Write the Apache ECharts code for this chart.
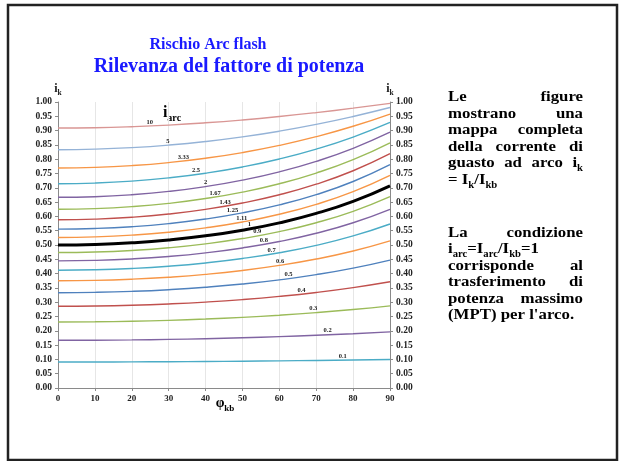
<!DOCTYPE html>
<html><head><meta charset="utf-8">
<script src="https://cdn.jsdelivr.net/npm/echarts@6/dist/echarts.min.js"></script>
<style>html,body{margin:0;padding:0;background:#fff}#c{width:620px;height:461px}</style>
</head><body><div id="c"></div>
<script>
// ---- data ----
const phi = [0, 10, 20, 30, 40, 50, 60, 70, 80, 90];
const yTicks = [0, 1, 0.05];
const iarcLabels = ['10','5','3.33','2.5','2','1.67','1.43','1.25','1.11','1','0.9','0.8','0.7','0.6','0.5','0.4','0.3','0.2','0.1'];
const ik_10   = [0.9091,0.9102,0.9137,0.9193,0.9272,0.9372,0.9492,0.9630,0.9784,0.9950];
const ik_5    = [0.8333,0.8351,0.8404,0.8493,0.8618,0.8780,0.8980,0.9218,0.9494,0.9806];
const ik_3_33 = [0.7692,0.7713,0.7776,0.7882,0.8033,0.8232,0.8482,0.8787,0.9151,0.9578];
const ik_2_5  = [0.7143,0.7165,0.7232,0.7347,0.7510,0.7728,0.8006,0.8352,0.8774,0.9285];
const ik_2    = [0.6667,0.6689,0.6758,0.6874,0.7043,0.7269,0.7559,0.7925,0.8381,0.8944];
const ik_1_67 = [0.6250,0.6272,0.6340,0.6456,0.6624,0.6850,0.7143,0.7516,0.7985,0.8575];
const ik_1_43 = [0.5882,0.5904,0.5970,0.6083,0.6247,0.6469,0.6757,0.7127,0.7596,0.8192];
const ik_1_25 = [0.5556,0.5577,0.5640,0.5749,0.5907,0.6122,0.6402,0.6762,0.7221,0.7809];
const ik_1_11 = [0.5263,0.5283,0.5344,0.5448,0.5600,0.5805,0.6075,0.6421,0.6864,0.7433];
const ik_1    = [0.5000,0.5019,0.5077,0.5176,0.5321,0.5517,0.5774,0.6104,0.6527,0.7071];
const ik_0_9  = [0.4737,0.4755,0.4810,0.4903,0.5040,0.5225,0.5467,0.5779,0.6178,0.6690];
const ik_0_8  = [0.4444,0.4461,0.4512,0.4599,0.4726,0.4897,0.5121,0.5409,0.5777,0.6247];
const ik_0_7  = [0.4118,0.4133,0.4179,0.4258,0.4373,0.4528,0.4730,0.4989,0.5317,0.5735];
const ik_0_6  = [0.3750,0.3763,0.3804,0.3874,0.3974,0.4110,0.4286,0.4509,0.4791,0.5145];
const ik_0_5  = [0.3333,0.3345,0.3379,0.3437,0.3521,0.3634,0.3780,0.3963,0.4191,0.4472];
const ik_0_4  = [0.2857,0.2866,0.2893,0.2939,0.3004,0.3091,0.3203,0.3341,0.3510,0.3714];
const ik_0_3  = [0.2308,0.2314,0.2333,0.2365,0.2410,0.2470,0.2545,0.2636,0.2745,0.2873];
const ik_0_2  = [0.1667,0.1670,0.1681,0.1699,0.1724,0.1756,0.1796,0.1844,0.1899,0.1961];
const ik_0_1  = [0.0909,0.0910,0.0914,0.0919,0.0927,0.0937,0.0949,0.0963,0.0978,0.0995];
const allSeries = [ik_10,ik_5,ik_3_33,ik_2_5,ik_2,ik_1_67,ik_1_43,ik_1_25,ik_1_11,ik_1,ik_0_9,ik_0_8,ik_0_7,ik_0_6,ik_0_5,ik_0_4,ik_0_3,ik_0_2,ik_0_1];

// ---- styles / layout ----
const FF = '"Liberation Serif","Times New Roman",serif';
const colors = ['#d99694','#95b3d7','#f79646','#4bacc6','#8064a2','#9bbb59','#c0504d','#4f81bd','#f79646','#000000',
                '#9bbb59','#8064a2','#4bacc6','#f79646','#4f81bd','#c0504d','#9bbb59','#8064a2','#4bacc6'];
const labelPhi = [24.9,29.8,34,37.4,40,42.6,45.3,47.3,49.8,51.9,54,55.8,57.9,60.2,62.5,66,69.2,73.1,77.2];

function interp(arr, x) {
  for (let i = 0; i < phi.length - 1; i++) {
    if (x >= phi[i] && x <= phi[i+1]) {
      const t = (x - phi[i]) / (phi[i+1] - phi[i]);
      return arr[i] + t * (arr[i+1] - arr[i]);
    }
  }
  return arr[arr.length-1];
}

const series = allSeries.map((arr, k) => ({
  type: 'line',
  name: iarcLabels[k],
  data: phi.map((p, i) => [p, arr[i]]),
  smooth: true,
  showSymbol: false,
  silent: true,
  z: iarcLabels[k] === '1' ? 5 : 3,
  lineStyle: { color: colors[k], width: iarcLabels[k] === '1' ? 3 : 1.4 },
  itemStyle: { color: colors[k] },
  markPoint: {
    symbol: 'circle', symbolSize: 0, silent: true,
    label: { show: true, position: 'inside', offset: [0, -4], formatter: iarcLabels[k],
             color: '#222', fontSize: 6.5, fontWeight: 'bold', fontFamily: FF },
    data: [{ coord: [labelPhi[k], interp(arr, labelPhi[k])] }]
  }
}));

// ---- right text block ----
const cv = document.createElement('canvas').getContext('2d');
const NS = 15, SS = 9.5, SX = 1.12;
const NFONT = 'bold ' + NS + 'px ' + FF, SFONT = 'bold ' + SS + 'px ' + FF;
function measure(rich) {
  let w = 0; const re = /\{(n|s)\|([^}]*)\}/g; let m;
  while ((m = re.exec(rich))) { cv.font = m[1] === 'n' ? NFONT : SFONT; w += cv.measureText(m[2]).width; }
  return w * SX;
}
const richStyle = {
  n: { fontSize: NS, fontWeight: 'bold', fontFamily: FF, color: '#000', padding: [0,0,3,0] },
  s: { fontSize: SS, fontWeight: 'bold', fontFamily: FF, color: '#000', verticalAlign: 'bottom' }
};
const TX0 = 448, TX1 = 583;
const textLines = [
  { y: 99,  j: true,  w: ['{n|Le}','{n|figure}'] },
  { y: 115.5, j: true, w: ['{n|mostrano}','{n|una}'] },
  { y: 132, j: true, w: ['{n|mappa}','{n|completa}'] },
  { y: 148.5, j: true, w: ['{n|della}','{n|corrente}','{n|di}'] },
  { y: 165, j: true, w: ['{n|guasto}','{n|ad}','{n|arco}','{n|i}{s|k}'] },
  { y: 181.5, j: false, w: ['{n|= I}{s|k}{n|/I}{s|kb}'] },
  { y: 234.5, j: true, w: ['{n|La}','{n|condizione}'] },
  { y: 251, j: false, w: ['{n|i}{s|arc}{n|=I}{s|arc}{n|/I}{s|kb}{n|=1}'] },
  { y: 267.5, j: true, w: ['{n|corrisponde}','{n|al}'] },
  { y: 284, j: true, w: ['{n|trasferimento}','{n|di}'] },
  { y: 300.5, j: true, w: ['{n|potenza}','{n|massimo}'] },
  { y: 317, j: false, w: ['{n|(MPT) per l\'arco.}'] }
];
const graphics = [];
function txt(x, y, t) {
  return { type: 'text', x: x, y: y, scaleX: SX, silent: true,
    style: { text: t, rich: richStyle, align: 'left', verticalAlign: 'middle', textAlign: 'left', textVerticalAlign: 'middle' } };
}
textLines.forEach(L => {
  if (!L.j || L.w.length < 2) {
    graphics.push(txt(TX0, L.y, L.w.join('')));
  } else {
    const ws = L.w.map(measure);
    const tot = ws.reduce((a, b) => a + b, 0);
    const gap = (TX1 - TX0 - tot) / (L.w.length - 1);
    let x = TX0;
    L.w.forEach((t, i) => { graphics.push(txt(x, L.y, t)); x += ws[i] + gap; });
  }
});

// titles, frame, i_arc marker, x axis name
graphics.push(
  { type: 'rect', silent: true, shape: { x: 8, y: 5, width: 609, height: 455 },
    style: { fill: 'none', stroke: '#222', lineWidth: 2.5 } },
  { type: 'text', x: 208, y: 45, silent: true,
    style: { text: 'Rischio Arc flash', fill: '#1a1aff', font: 'bold 16px ' + FF,
             align: 'center', verticalAlign: 'middle', textAlign: 'center', textVerticalAlign: 'middle' } },
  { type: 'text', x: 229, y: 67, silent: true,
    style: { text: 'Rilevanza del fattore di potenza', fill: '#1a1aff', font: 'bold 20px ' + FF,
             align: 'center', verticalAlign: 'middle', textAlign: 'center', textVerticalAlign: 'middle' } },
  { type: 'text', x: 172, y: 114, silent: true,
    style: { text: '{a|i}{b|arc}', align: 'center', verticalAlign: 'middle', textAlign: 'center', textVerticalAlign: 'middle',
      rich: { a: { fontSize: 16, fontWeight: 'bold', fontFamily: FF, color: '#222', padding: [0,0,3,0] },
              b: { fontSize: 10, fontWeight: 'bold', fontFamily: FF, color: '#222', verticalAlign: 'bottom' } } } },
  { type: 'text', x: 225, y: 405, silent: true,
    style: { text: '{a|φ}{b|kb}', align: 'center', verticalAlign: 'middle', textAlign: 'center', textVerticalAlign: 'middle',
      rich: { a: { fontSize: 14, fontWeight: 'bold', fontFamily: FF, color: '#222', padding: [0,0,3,0] },
              b: { fontSize: 9, fontWeight: 'bold', fontFamily: FF, color: '#222', verticalAlign: 'bottom' } } } }
);

const axisName = '{a|i}{b|k}';
const axisNameStyle = {
  rich: { a: { fontSize: 12, fontWeight: 'bold', fontFamily: FF, color: '#222', padding: [0,0,2,0] },
          b: { fontSize: 7.5, fontWeight: 'bold', fontFamily: FF, color: '#222', verticalAlign: 'bottom' } }
};
const yLabel = { fontSize: 9.5, fontWeight: 'bold', fontFamily: FF, color: '#222', margin: 6, formatter: v => v.toFixed(2) };

const option = {
  animation: false,
  backgroundColor: '#fff',
  grid: { left: 58, right: 230, top: 102, bottom: 73, containLabel: false },
  xAxis: {
    type: 'value', min: 0, max: 90, interval: 10,
    axisLine: { show: true, lineStyle: { color: '#8a8a8a', width: 1 } },
    axisTick: { show: true, length: 3, lineStyle: { color: '#8a8a8a' } },
    axisLabel: { fontSize: 9, fontWeight: 'bold', fontFamily: FF, color: '#222', margin: 6 },
    splitLine: { show: true, lineStyle: { color: '#e6e6e6', width: 1 } }
  },
  yAxis: [
    { type: 'value', min: yTicks[0], max: yTicks[1], interval: yTicks[2], position: 'left',
      name: axisName, nameLocation: 'end', nameGap: 5, nameTextStyle: axisNameStyle,
      axisLine: { show: true, lineStyle: { color: '#8a8a8a' } },
      axisTick: { show: true, length: 3, lineStyle: { color: '#8a8a8a' } },
      axisLabel: yLabel, splitLine: { show: false } },
    { type: 'value', min: yTicks[0], max: yTicks[1], interval: yTicks[2], position: 'right',
      name: axisName, nameLocation: 'end', nameGap: 5, nameTextStyle: axisNameStyle,
      axisLine: { show: true, lineStyle: { color: '#8a8a8a' } },
      axisTick: { show: true, length: 3, lineStyle: { color: '#8a8a8a' } },
      axisLabel: yLabel, splitLine: { show: false } }
  ],
  series: series,
  graphic: { elements: graphics }
};
const chart = echarts.init(document.getElementById('c'), null, { renderer: 'canvas' });
chart.setOption(option);
</script>
</body></html>
